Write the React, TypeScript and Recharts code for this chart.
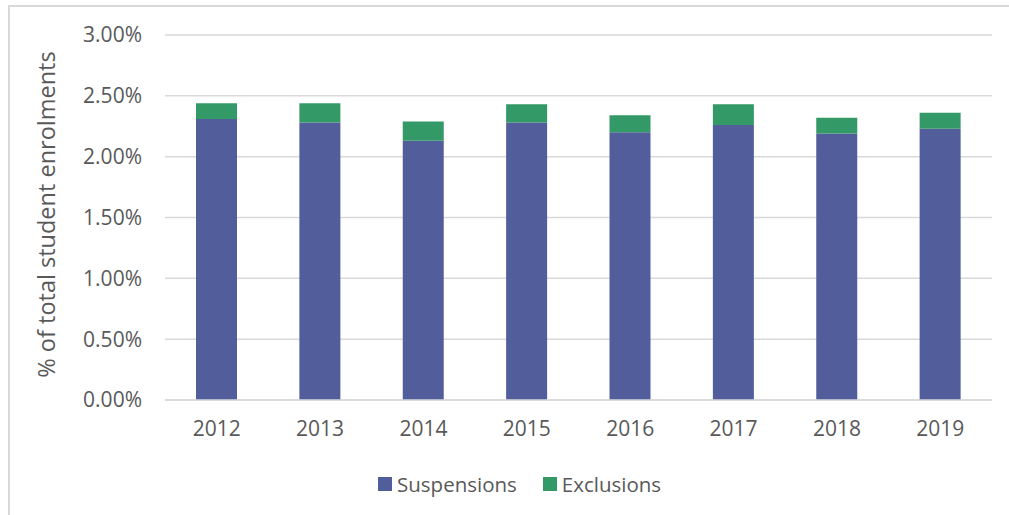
import { BarChart, Bar, XAxis, YAxis, CartesianGrid, Legend } from 'recharts'

// values, in % of total student enrolments
const years = ['2012', '2013', '2014', '2015', '2016', '2017', '2018', '2019']
const suspensions = [2.31, 2.28, 2.13, 2.28, 2.2, 2.26, 2.19, 2.23]
const exclusions = [0.13, 0.16, 0.16, 0.15, 0.14, 0.17, 0.13, 0.13]
const yTicks = [0, 0.5, 1, 1.5, 2, 2.5, 3]

const SUSP = '#525E9B'
const EXCL = '#339966'
const TEXT = '#595959'
const GRID = '#D9D9D9'
const FONT = '"Open Sans", sans-serif'

const data = years.map((year, i) => ({
  year,
  suspensions: suspensions[i],
  exclusions: exclusions[i],
}))

const series = [
  { key: 'suspensions', name: 'Suspensions', color: SUSP },
  { key: 'exclusions', name: 'Exclusions', color: EXCL },
]

function LegendBox() {
  return (
    <div style={{ display: 'flex', alignItems: 'center', fontFamily: FONT, fontSize: 20.5, color: TEXT }}>
      {series.map((s, i) => (
        <div key={s.key} style={{ display: 'flex', alignItems: 'center', marginLeft: i === 0 ? 0 : 26 }}>
          <span style={{ width: 14, height: 14, background: s.color, marginRight: 5, display: 'inline-block' }} />
          <span>{s.name}</span>
        </div>
      ))}
    </div>
  )
}

function YLabel({ viewBox }: any) {
  const cy = viewBox ? viewBox.y + viewBox.height / 2 : 217
  return (
    <text
      transform={`translate(55,${cy - 3}) rotate(-90)`}
      textAnchor="middle"
      fill={TEXT}
      fontSize={23.5}
      fontFamily={FONT}
    >
      % of total student enrolments
    </text>
  )
}

export default function App() {
  return (
    <div style={{ position: 'absolute', left: 0, top: 0, width: 1009, height: 515, background: '#fff' }}>
      <div
        style={{
          position: 'absolute',
          left: 8,
          top: 5,
          right: 0,
          bottom: 0,
          borderTop: `2px solid ${GRID}`,
          borderLeft: `2px solid ${GRID}`,
        }}
      />
      <div style={{ position: 'absolute', left: 0, top: 0 }}>
        <BarChart
          width={1009}
          height={515}
          data={data}
          margin={{ top: 35, right: 17, left: 0, bottom: 85 }}
          style={{ fontFamily: FONT }}
        >
          <CartesianGrid horizontal vertical={false} stroke={GRID} strokeWidth={1.5} />
          <XAxis
            dataKey="year"
            height={30}
            axisLine={{ stroke: GRID, strokeWidth: 1.5 }}
            tickLine={false}
            tickSize={0}
            tickMargin={21}
            tick={{ fill: TEXT, fontSize: 21, fontFamily: FONT }}
          />
          <YAxis
            width={165}
            domain={[0, 3]}
            ticks={yTicks}
            interval={0}
            axisLine={false}
            tickLine={false}
            tickSize={0}
            tickMargin={23}
            tickFormatter={(v: number) => `${v.toFixed(2)}%`}
            tick={{ fill: TEXT, fontSize: 21, fontFamily: FONT }}
            label={{ content: (p: any) => <YLabel {...p} /> }}
          />
          <Legend
            verticalAlign="middle"
            layout="horizontal"
            align="center"
            content={() => <LegendBox />}
            wrapperStyle={{ left: 378, top: 470, width: 'auto' }}
          />
          {series.map((s) => (
            <Bar
              key={s.key}
              dataKey={s.key}
              name={s.name}
              stackId="a"
              fill={s.color}
              barSize={41}
              isAnimationActive={false}
            />
          ))}
        </BarChart>
      </div>
    </div>
  )
}
